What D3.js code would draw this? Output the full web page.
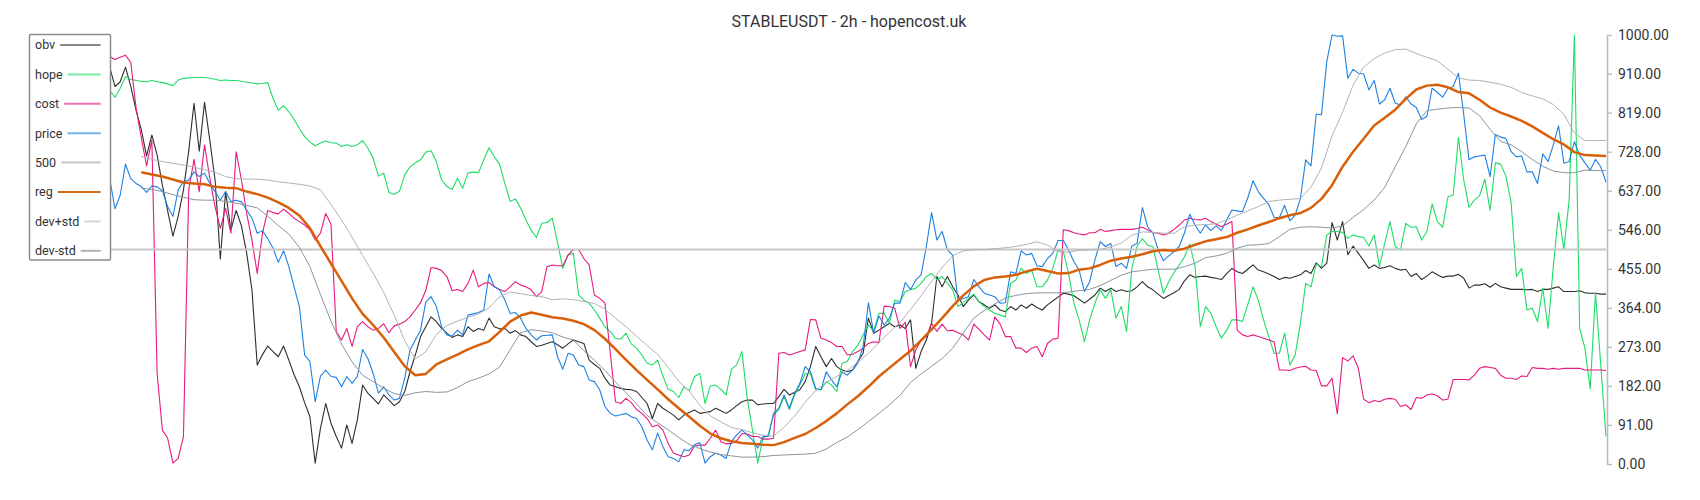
<!DOCTYPE html>
<html><head><meta charset="utf-8">
<script src="https://cdn.jsdelivr.net/npm/d3@7"></script>
<style>body{margin:0;background:#fff;} svg{display:block;font-family:Roboto, "Noto Sans", sans-serif;}</style>
</head><body>
<svg id="chart" width="1700" height="500"></svg>
<script>
// ---------------- data ----------------
const title = "STABLEUSDT - 2h - hopencost.uk";
const barCount = 285;               // 2h bars, index 0..284
const price = [
665,595,627,699,665,654,647,633,648,646, 637,600,577,639,658,662,681,670,678,654,
635,615,635,612,615,611,592,573,538,544, 525,503,470,497,460,413,367,254,239,145,
205,219,204,202,180,204,188,204,267,246, 211,165,180,161,149,153,200,266,289,312,
378,390,367,320,301,298,312,301,347,350, 353,359,443,413,406,382,351,353,340,316,
301,289,299,300,301,250,221,258,254,231, 227,196,192,173,134,118,112,115,118,110,
106,87,56,33,72,40,17,13,5,33, 31,45,50,2,17,25,21,13,52,68,
79,68,56,37,64,64,118,130,161,130, 165,188,227,215,176,173,215,196,180,215,
207,219,235,274,376,305,345,324,340,375, 375,423,407,429,441,507,586,522,542,499,
487,382,386,390,430,413,398,394,390,375, 376,448,444,497,487,491,462,460,479,491,
521,521,499,472,452,402,425,476,518,507, 514,460,468,456,508,514,598,553,538,499,
474,485,495,507,539,582,557,538,557,544, 555,544,569,592,590,588,620,660,635,619,
605,575,574,603,567,580,619,709,695,816, 814,938,1000,997,998,899,920,911,909,872,
894,839,849,876,841,837,856,839,831,803, 810,876,866,855,876,880,911,814,709,716,
718,720,670,768,762,759,728,716,718,681, 681,654,723,705,744,788,701,705,751,720,
702,685,710,693,657];
const hope = [
870,855,876,903,897,894,892,891,894,891, 889,886,882,895,899,900,901,901,901,899,
897,894,895,894,894,892,890,888,886,887, 889,852,825,835,821,803,782,763,751,742,
748,753,749,748,740,744,740,744,754,736, 713,671,678,633,629,636,674,693,702,709,
727,730,705,662,647,640,666,643,678,681, 679,709,737,716,699,654,612,618,596,569,
545,528,561,563,573,516,456,487,491,394, 382,375,359,340,320,309,293,291,305,280,
270,254,235,231,242,205,174,169,155,180, 171,204,211,141,182,184,174,161,221,231,
262,153,79,2,60,68,114,127,157,127, 161,184,211,211,173,173,192,184,169,235,
239,262,277,301,324,309,351,351,328,382, 378,402,406,410,421,437,444,429,437,421,
406,367,376,386,396,378,367,359,351,347, 343,421,429,456,444,452,413,413,429,456,
499,495,444,375,336,285,336,375,406,386, 407,340,367,309,456,507,525,510,507,452,
398,425,446,464,483,513,460,320,367,351, 320,293,312,336,336,332,371,413,382,336,
297,258,258,305,231,254,328,421,413,466, 460,534,542,542,540,526,534,530,528,508,
534,460,514,565,507,499,561,552,553,522, 542,606,565,552,623,627,761,662,598,615,
625,664,591,702,699,671,608,437,456,359, 363,332,410,316,460,586,500,615,1000,316,
270,175,399,231,64];
const cost = [
950,943,948,953,936,830,760,695,755,211, 79,60,2,13,64,639,710,635,744,666,
600,549,596,538,728,662,584,522,444,538, 591,586,583,594,584,573,565,557,546,522,
538,584,559,309,289,316,274,320,332,320, 312,316,327,306,322,326,332,343,359,376,
405,458,456,451,437,404,407,402,421,452, 413,421,423,413,407,402,413,425,417,413,
406,390,402,460,464,462,462,487,500,500, 479,464,394,386,375,260,145,141,153,143,
127,118,106,87,91,79,48,25,21,17, 21,42,44,44,60,79,52,47,48,54,
71,70,64,64,58,58,60,258,260,254, 258,262,266,337,336,293,289,283,274,274,
254,256,262,270,281,285,283,368,367,363, 316,330,227,266,289,297,328,309,326,310,
312,306,301,289,326,314,301,289,343,326, 297,297,270,270,260,270,274,250,281,291,
293,546,544,539,536,534,539,539,547,542, 544,546,547,547,547,549,552,546,539,538,
534,538,547,557,569,573,570,569,573,565, 559,553,559,565,312,301,297,301,297,293,
289,285,219,219,218,223,226,228,219,218, 182,182,200,117,248,240,252,223,151,143,
148,145,151,153,151,134,138,127,155,153, 161,163,159,149,151,197,197,197,196,207,
223,227,225,223,207,200,200,197,205,204, 225,223,223,221,223,221,223,223,223,223,
219,219,219,219,218];
const obv = [
925,880,891,925,880,825,779,718,767,720, 650,590,531,577,639,730,841,729,843,755,
662,478,635,545,591,555,491,406,231,255, 275,262,250,275,242,208,180,143,110,2,
83,141,95,64,37,91,48,103,184,165, 153,140,161,149,136,145,169,215,254,297,
320,343,332,316,305,295,301,297,320,309, 316,312,340,320,315,316,305,311,301,297,
285,274,277,281,285,278,270,280,289,285, 281,242,232,223,200,184,180,176,174,173,
169,155,141,106,141,130,122,114,103,114, 120,126,118,120,122,130,124,118,126,136,
145,149,149,138,140,141,141,157,174,161, 167,173,192,227,274,250,227,246,227,219,
215,219,239,258,340,305,312,320,328,320, 324,316,336,223,262,289,328,437,413,437,
413,394,367,382,394,378,371,363,371,359, 355,367,359,371,363,373,365,359,371,380,
389,398,396,392,384,375,384,394,410,402, 410,402,406,402,404,413,425,413,406,396,
386,393,399,407,427,441,435,437,438,435, 433,430,444,456,448,444,454,464,452,448,
443,437,430,435,433,437,441,451,444,469, 456,468,563,522,565,488,508,491,474,456,
464,456,458,462,456,452,454,437,444,430, 438,448,441,435,438,438,442,433,410,417,
417,420,412,421,413,410,407,407,407,406, 407,402,407,407,410,413,402,402,402,404,
399,398,398,396,396];
// smoothed series: first value at bar 6, one value every 2 bars
const smoothStart = 6, smoothStep = 2;
const reg = [
680,675,670,663,656,654,652,646,644,643, 635,629,621,610,597,579,550,508,467,427,
386,350,324,295,261,228,207,210,232,244, 255,267,277,286,308,332,346,353,348,342,
339,334,326,312,292,268,243,219,196,174, 151,130,110,89,71,60,53,49,47,45,
44,51,61,70,84,100,118,139,158,180, 204,224,244,264,288,314,340,368,393,414,
429,435,437,441,449,455,450,444,445,453, 456,464,474,479,483,489,496,499,497,502,
511,519,524,529,539,547,556,564,573,580, 585,597,618,650,693,728,758,789,807,826,
851,873,882,884,878,867,864,849,831,819, 810,800,787,772,757,745,727,720,719,718];
const devPlus = [
717,710,705,701,697,692,686,680,670,665, 664,664,662,658,655,652,648,639,605,569,
529,486,445,400,347,287,245,262,302,323, 333,342,350,364,390,401,397,393,390,383,
385,383,379,374,361,340,320,298,276,256, 225,193,170,137,112,98,85,80,73,67,
65,86,112,144,171,190,204,218,237,258, 283,307,330,360,392,426,458,485,497,499,
500,502,504,507,512,518,510,495,494,498, 499,500,506,515,533,541,540,538,538,553,
557,558,560,569,580,590,600,612,615,617, 619,645,690,765,820,883,925,945,958,966,
967,957,948,940,920,900,895,894,890,885, 878,866,858,851,838,815,772,754,754,754];
const devMinus = [
643,640,635,628,622,616,615,615,612,608, 603,597,578,556,536,505,460,395,333,280,
238,207,192,177,164,160,166,169,167,168, 178,192,200,210,226,266,306,313,310,306,
296,289,264,242,218,191,166,140,113,96, 80,62,46,36,28,22,19,16,16,17,
20,21,22,23,25,35,50,63,80,99, 118,138,160,190,210,228,246,270,305,340,
358,373,387,393,397,399,399,399,401,404, 407,416,428,440,448,451,454,454,454,460,
468,481,485,491,503,510,511,514,530,547, 552,553,552,550,555,575,593,615,645,693,
740,793,824,827,830,831,830,812,780,752, 744,728,710,694,683,679,679,685,684,684];
const level500 = 500;
const yTicks = [0,91,182,273,364,455,546,637,728,819,910,1000];
const legendNames = ["obv","hope","cost","price","500","reg","dev+std","dev-std"];

// ---------------- drawing ----------------
const svg = d3.select("#chart");
const x = d3.scaleLinear().domain([0, barCount - 1]).range([109.7, 1606]);
const y = d3.scaleLinear().domain([0, 1000]).range([464, 35]);

const styles = {
  "obv":     {color:"#2e2e2e", width:1.1, legend:"#8a8a8a"},
  "hope":    {color:"#1fdc66", width:1.1, legend:"#7de9a5"},
  "cost":    {color:"#e8197f", width:1.1, legend:"#ee72b2"},
  "price":   {color:"#1e80e2", width:1.1, legend:"#76b4ec"},
  "500":     {color:"#c6c6c6", width:2,   legend:"#c8c8c8"},
  "reg":     {color:"#d9600a", width:2.5, legend:"#d66a12"},
  "dev+std": {color:"#aeb3b8", width:1,   legend:"#d3d7db"},
  "dev-std": {color:"#8a959e", width:1,   legend:"#aab3ba"}
};

const fullPts = arr => arr.map((v, i) => [i, v]);
const smoothPts = arr => arr.map((v, j) => [smoothStart + j * smoothStep, v]);
const seriesData = {
  "obv": fullPts(obv),
  "hope": fullPts(hope),
  "cost": fullPts(cost),
  "price": fullPts(price),
  "500": [[0, level500], [barCount - 1, level500]],
  "reg": smoothPts(reg),
  "dev+std": smoothPts(devPlus),
  "dev-std": smoothPts(devMinus)
};

const line = d3.line().x(d => x(d[0])).y(d => y(d[1]));
const g = svg.append("g");
legendNames.forEach(name => {
  g.append("path")
    .datum(seriesData[name])
    .attr("d", line)
    .attr("fill", "none")
    .attr("stroke", styles[name].color)
    .attr("stroke-width", styles[name].width)
    .attr("stroke-linejoin", "round");
});

// right axis
const axis = d3.axisRight(y).tickValues(yTicks).tickFormat(d3.format(".2f"))
  .tickSize(5).tickSizeOuter(0).tickPadding(6);
const ag = svg.append("g").attr("transform", "translate(1607,0)").call(axis);
ag.select(".domain").attr("stroke", "#b3bdc4").attr("stroke-width", 1.6);
ag.selectAll(".tick line").attr("stroke", "#b3bdc4").attr("stroke-width", 1.4);
ag.selectAll(".tick text").attr("fill", "#333").style("font-size", "14px")
  .style("font-family", "Roboto, sans-serif");

// title
svg.append("text").attr("x", 849).attr("y", 21).attr("dy", "0.35em")
  .attr("text-anchor", "middle").attr("fill", "#333")
  .style("font-size", "16px").text(title);

// legend
const lg = svg.append("g");
lg.append("rect").attr("x", 29.5).attr("y", 34.5).attr("width", 81).attr("height", 225.5)
  .attr("fill", "#fff").attr("stroke", "#8c8c8c").attr("stroke-width", 1.5).attr("rx", 1);
legendNames.forEach((name, k) => {
  const yy = 45 + 29.4 * k;
  const t = lg.append("text").attr("x", 35).attr("y", yy).attr("dy", "0.35em")
    .attr("fill", "#333").style("font-size", "12.5px").text(name);
  const w = t.node().getComputedTextLength();
  lg.append("line").attr("x1", 35 + w + 5).attr("x2", 100.7)
    .attr("y1", yy).attr("y2", yy)
    .attr("stroke", styles[name].legend).attr("stroke-width", 2);
});
</script>
</body></html>
